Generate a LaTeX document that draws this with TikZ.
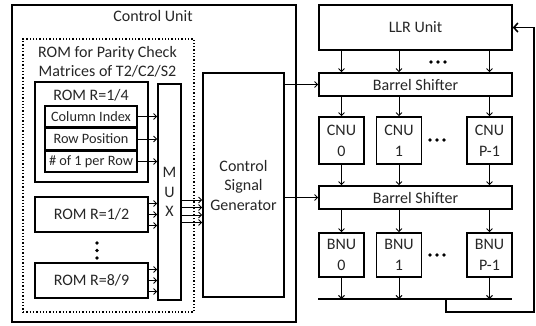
\documentclass[tikz,border=0pt]{standalone}
\usepackage{fontspec}
\setmainfont{Carlito}
\usetikzlibrary{arrows.meta}

\begin{document}
\begin{tikzpicture}[x=1pt,y=-1pt,line width=1pt,text=black!85,
  font=\fontsize{16}{19.5}\selectfont]
\tikzset{blk/.style={draw=black,line width=1.6pt,inner sep=0pt,align=center},
txt/.style={inner sep=0pt,align=center},
field/.style={blk,minimum width=92,minimum height=21,font=\fontsize{14.3}{17}\selectfont},
unit/.style={blk,minimum width=45,font=\fontsize{16}{21}\selectfont},
arr/.style={line width=0.9pt,-{Straight Barb[length=3pt,width=6pt]}},
}
\useasboundingbox (0,0) rectangle (536,325);

\node[blk,minimum width=284,minimum height=317] (cu) at (154,163.5) {};
\node[txt] (cutitle) at (153,16) {Control Unit};
\node[draw,dotted,line width=1.3pt,minimum width=171,minimum height=273] (romset) at (108.5,175.5) {};
\node[txt] (romtitle) at (107.5,62) {ROM for Parity Check\\Matrices of T2/C2/S2};

\node[blk,minimum width=113,minimum height=100] (rom14) at (91.5,132) {};
\node[txt] (rom14t) at (91,95) {ROM R=1/4};
\node[field] (colidx) at (91,116.5) {Column Index};
\node[field] (rowpos) at (91,139) {Row Position};
\node[field] (numone) at (91,161.5) {\# of 1 per Row};
\node[blk,minimum width=113,minimum height=35] (rom12) at (91.5,214.5) {ROM R=1/2};
\node[blk,minimum width=113,minimum height=35] (rom89) at (91.5,280.5) {ROM R=8/9};
\node[blk,minimum width=23,minimum height=216] (mux) at (169.5,192) {M\\U\\X};
\node[blk,minimum width=81,minimum height=224] (csg) at (243.5,185) {Control\\Signal\\Generator};

\foreach \n in {colidx,rowpos,numone}
  \draw[arr] (\n.east) -- (\n.east -| mux.west);
\foreach \d in {-11,0,11} {
  \draw[arr] ([yshift=\d pt]rom12.east) -- ([yshift=\d pt]rom12.east -| mux.west);
  \draw[arr] ([yshift=\d pt]rom89.east) -- ([yshift=\d pt]rom89.east -| mux.west);
}
\foreach \yy in {200,207.5,215,222.5}
  \draw[arr] (mux.east |- 0,\yy) -- (csg.west |- 0,\yy);
\foreach \yy in {243,250.5,258}
  \fill (97,\yy) circle (1.8);

\node[blk,minimum width=193,minimum height=45] (llr) at (415.5,27.5) {LLR Unit};
\node[blk,minimum width=193,minimum height=23] (bs1) at (415.5,84.5) {Barrel Shifter};
\node[blk,minimum width=193,minimum height=23] (bs2) at (415.5,197.5) {Barrel Shifter};
\foreach \i/\xx/\lab in {0/341.5/0,1/399/1,p/489.5/P-1} {
  \node[unit,minimum height=47] (cnu\i) at (\xx,140.5) {CNU\\\lab};
  \node[unit,minimum height=44] (bnu\i) at (\xx,255) {BNU\\\lab};
}
\coordinate (busL) at (318,299);
\coordinate (busR) at (512,299);
\coordinate (tap) at (446,299);

\draw[arr] (csg.east |- bs1.west) -- (bs1.west);
\draw[arr] (csg.east |- bs2.west) -- (bs2.west);
\foreach \i in {0,1,p} {
  \draw[arr] (cnu\i.north |- llr.south) -- (cnu\i.north |- bs1.north);
  \draw[arr] (cnu\i.north |- bs1.south) -- (cnu\i.north);
  \draw[arr] (cnu\i.south) -- (cnu\i.south |- bs2.north);
  \draw[arr] (bnu\i.north |- bs2.south) -- (bnu\i.north);
  \draw[arr] (bnu\i.south) -- (bnu\i.south |- busL);
}
\foreach \xx in {431,438,445} {
  \fill (\xx,62) circle (1.8);
  \fill (\xx-1,140) circle (1.8);
  \fill (\xx-1,255) circle (1.8);
}
\draw[line width=2pt] (busL) -- (busR);
\draw[line width=1.6pt,-{Straight Barb[length=4pt,width=9pt]}] (tap) |- (534,312) |- (llr.east);
\end{tikzpicture}
\end{document}
